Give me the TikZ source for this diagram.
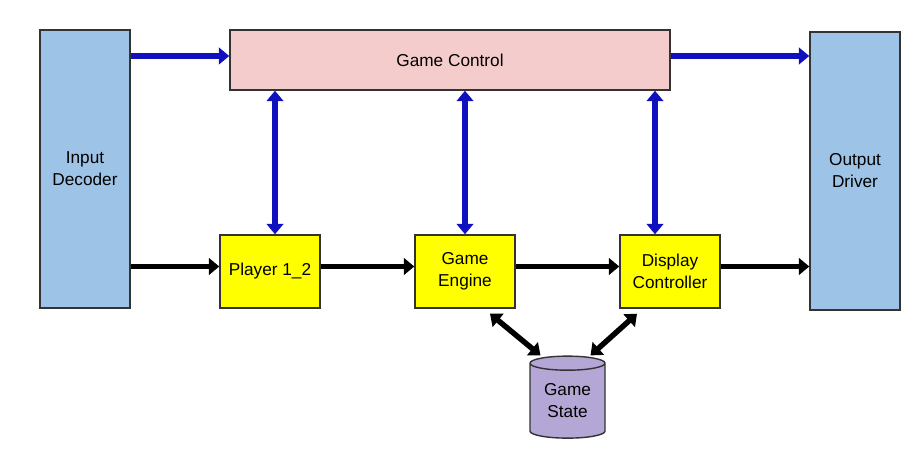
\documentclass[tikz,border=0pt]{standalone}
\usepackage{fontspec}
\setmainfont{Liberation Sans}
\usepackage{tikz}
\usetikzlibrary{arrows.meta, positioning, shapes.geometric}
\colorlet{sidebox}{rgb,255:red,157;green,195;blue,230}
\colorlet{controlbox}{rgb,255:red,244;green,204;blue,204}
\colorlet{unitbox}{rgb,255:red,255;green,255;blue,0}
\colorlet{statebox}{rgb,255:red,180;green,167;blue,214}
\colorlet{busblue}{rgb,255:red,16;green,16;blue,190}
\colorlet{edgegray}{black!80}

\begin{document}
\begin{tikzpicture}[>={Triangle[length=6pt, width=9.5pt]},
    every node/.style={font=\fontsize{9.8}{12.5}\selectfont, align=center},
    block/.style={draw=edgegray, line width=0.8pt, inner sep=0pt},
    unit/.style={block, fill=unitbox, minimum width=2cm, minimum height=1.46cm},
    ctrlbus/.style={->, line width=3.3pt, draw=busblue},
    ctrllink/.style={<->, line width=3.3pt, draw=busblue},
    databus/.style={->, line width=3.1pt, draw=black},
    datalink/.style={<->, line width=3.1pt, draw=black}]
    \useasboundingbox (0,0) rectangle (18.4,-9.3);

    % --- Side blocks and control bar ---
    \node[block, fill=sidebox, minimum width=1.8cm, minimum height=5.56cm] (dec) at (1.7,-3.38) {Input\\Decoder};
    \node[block, fill=sidebox, minimum width=1.8cm, minimum height=5.56cm] (drv) at (17.1,-3.42) {Output\\Driver};
    \node[block, fill=controlbox, minimum width=8.8cm, minimum height=1.2cm] (ctl) at (9.0,-1.2) {Game Control};

    % --- Processing units ---
    \node[unit] (ply) at (5.4,-5.43) {Player 1\_2};
    \node[unit] (eng) at (9.3,-5.43) {Game\\Engine};
    \node[unit] (dsp) at (13.4,-5.43) {Display\\Controller};

    % --- Shared state ---
    \node[cylinder, shape border rotate=90, aspect=0.3, draw=edgegray, line width=0.8pt,
          fill=statebox, minimum width=1.5cm, minimum height=1.64cm, inner sep=0pt] (st) at (11.35,-8.02) {Game\\State};

    % Control path (blue)
    \draw[ctrlbus] ([yshift=0.08cm]dec.east |- ctl.west) -- ([yshift=0.08cm]ctl.west);
    \draw[ctrlbus] ([yshift=0.08cm]ctl.east) -- ([yshift=0.08cm]drv.west |- ctl.east);
    \draw[ctrllink] ([xshift=0.1cm]ply.north) -- ([xshift=0.1cm]ply.north |- ctl.south);
    \draw[ctrllink] (eng.north) -- (eng.north |- ctl.south);
    \draw[ctrllink] ([xshift=-0.3cm]dsp.north) -- ([xshift=-0.3cm]dsp.north |- ctl.south);

    % Data path (black)
    \draw[databus] ([yshift=0.1cm]dec.east |- ply.west) -- ([yshift=0.1cm]ply.west);
    \draw[databus] ([yshift=0.1cm]ply.east) -- ([yshift=0.1cm]eng.west);
    \draw[databus] ([yshift=0.1cm]eng.east) -- ([yshift=0.1cm]dsp.west);
    \draw[databus] ([yshift=0.1cm]dsp.east) -- ([yshift=0.1cm]drv.west |- dsp.east);

    % State access
    \draw[datalink] ([xshift=0.5cm, yshift=-0.1cm]eng.south) -- ([xshift=-0.54cm]st.north);
    \draw[datalink] ([xshift=-0.66cm, yshift=-0.1cm]dsp.south) -- ([xshift=0.46cm]st.north);
\end{tikzpicture}
\end{document}
